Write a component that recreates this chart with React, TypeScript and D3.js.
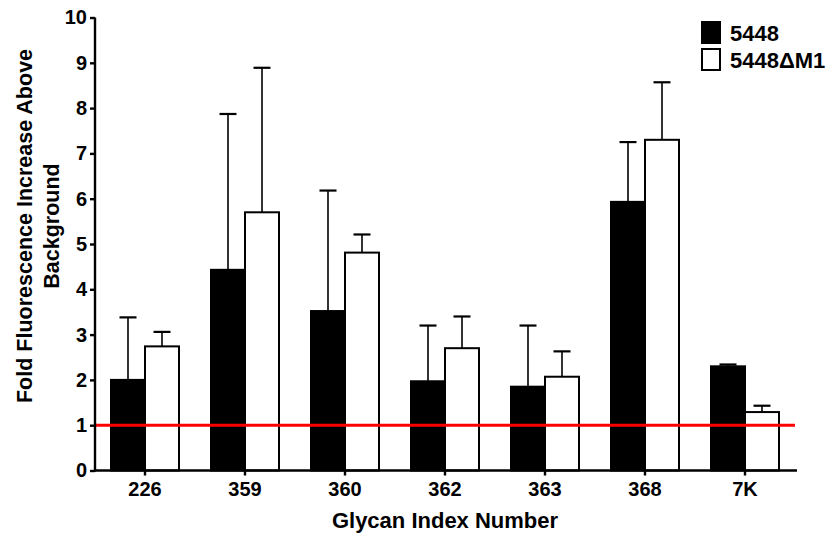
import { useEffect, useRef } from "react";
import * as d3 from "d3";

const categories = ["226", "359", "360", "362", "363", "368", "7K"];
const seriesNames = ["5448", "5448\u0394M1"];
const wildMeans = [2.0, 4.43, 3.52, 1.97, 1.85, 5.93, 2.3];
const wildErrTop = [3.38, 7.87, 6.18, 3.2, 3.2, 7.25, 2.34];
const mutantMeans = [2.74, 5.7, 4.81, 2.7, 2.07, 7.3, 1.29];
const mutantErrTop = [3.06, 8.89, 5.21, 3.4, 2.63, 8.57, 1.43];
const yTicks = [0, 1, 2, 3, 4, 5, 6, 7, 8, 9, 10];
const baseline = 1;

export default function App() {
  const svgRef = useRef<SVGSVGElement | null>(null);

  useEffect(() => {
    document.body.style.margin = "0";
    if (!svgRef.current) return;
    const svg = d3.select(svgRef.current);
    svg.selectAll("*").remove();

    const height = 534;
    const margin = { top: 17.5, right: 32, bottom: 63.5, left: 95 };
    const innerHeight = height - margin.top - margin.bottom;
    const font = "'Liberation Sans', Arial, sans-serif";

    const root = svg
      .append("g")
      .attr("transform", `translate(${margin.left},${margin.top})`);

    const x = d3
      .scaleBand()
      .domain(categories)
      .range([0, 700])
      .paddingInner(0.32)
      .paddingOuter(0.16);
    const sub = d3.scaleBand().domain(seriesNames).range([0, x.bandwidth()]);
    const y = d3.scaleLinear().domain([0, 10]).range([innerHeight, 0]);

    const rows = categories.map((c, i) => ({
      cat: c,
      bars: [
        { name: seriesNames[0], value: wildMeans[i], err: wildErrTop[i], fill: "#000" },
        { name: seriesNames[1], value: mutantMeans[i], err: mutantErrTop[i], fill: "#fff" },
      ],
    }));

    const groups = root
      .selectAll("g.group")
      .data(rows)
      .join("g")
      .attr("class", "group")
      .attr("transform", (d) => `translate(${x(d.cat)},0)`);

    const bar = groups
      .selectAll("g.bar")
      .data((d) => d.bars)
      .join("g")
      .attr("class", "bar");

    // error bars (upper only)
    bar
      .append("line")
      .attr("x1", (d) => (sub(d.name) ?? 0) + sub.bandwidth() / 2)
      .attr("x2", (d) => (sub(d.name) ?? 0) + sub.bandwidth() / 2)
      .attr("y1", (d) => y(d.value))
      .attr("y2", (d) => y(d.err))
      .attr("stroke", "#000")
      .attr("stroke-width", 1.6);
    bar
      .append("line")
      .attr("x1", (d) => (sub(d.name) ?? 0) + sub.bandwidth() / 4)
      .attr("x2", (d) => (sub(d.name) ?? 0) + (sub.bandwidth() * 3) / 4)
      .attr("y1", (d) => y(d.err))
      .attr("y2", (d) => y(d.err))
      .attr("stroke", "#000")
      .attr("stroke-width", 2.2);

    bar
      .append("rect")
      .attr("x", (d) => sub(d.name) ?? 0)
      .attr("y", (d) => y(d.value))
      .attr("width", sub.bandwidth())
      .attr("height", (d) => innerHeight - y(d.value))
      .attr("fill", (d) => d.fill)
      .attr("stroke", "#000")
      .attr("stroke-width", 2);

    // baseline
    root
      .append("line")
      .attr("x1", 0)
      .attr("x2", 700)
      .attr("y1", y(baseline))
      .attr("y2", y(baseline))
      .attr("stroke", "#ff0000")
      .attr("stroke-width", 3);

    // axes
    const yAxis = root
      .append("g")
      .call(d3.axisLeft(y).tickValues(yTicks).tickSize(5).tickSizeOuter(0).tickPadding(3));
    const xAxis = root
      .append("g")
      .attr("transform", `translate(0,${innerHeight})`)
      .call(d3.axisBottom(x).tickSize(5).tickSizeOuter(0).tickPadding(6.5));
    xAxis.select(".domain").attr("d", `M0,0H702`);
    yAxis.select(".domain").attr("d", `M0,${innerHeight + 1}V0`);
    [xAxis, yAxis].forEach((axis) => {
      axis.attr("font-size", null).attr("font-family", null);
      axis.selectAll("line,path").attr("stroke", "#000").attr("stroke-width", 2.4);
      axis
        .selectAll("text")
        .attr("fill", "#000")
        .style("font-family", font)
        .style("font-weight", "bold")
        .style("font-size", "20px");
    });

    // axis titles
    svg
      .append("text")
      .attr("x", margin.left + 350)
      .attr("y", 528)
      .attr("text-anchor", "middle")
      .style("font-family", font)
      .style("font-weight", "bold")
      .style("font-size", "22px")
      .text("Glycan Index Number");

    const yTitle = svg
      .append("text")
      .attr("transform", "translate(32,226) rotate(-90)")
      .attr("text-anchor", "middle")
      .style("font-family", font)
      .style("font-weight", "bold")
      .style("font-size", "21.5px");
    yTitle.append("tspan").attr("x", 0).attr("y", 0).text("Fold Fluorescence Increase Above");
    yTitle.append("tspan").attr("x", 0).attr("y", 26.5).text("Background");

    // legend
    const legend = svg.append("g").attr("transform", "translate(702,22)");
    const item = legend
      .selectAll("g")
      .data(seriesNames)
      .join("g")
      .attr("transform", (_, i) => `translate(0,${i * 27})`);
    item
      .append("rect")
      .attr("width", 18)
      .attr("height", 21)
      .attr("fill", (_, i) => (i === 0 ? "#000" : "#fff"))
      .attr("stroke", "#000")
      .attr("stroke-width", 2);
    item
      .append("text")
      .attr("x", 28)
      .attr("y", 19)
      .style("font-family", font)
      .style("font-weight", "bold")
      .style("font-size", "22px")
      .text((d) => d);
  }, []);

  return <svg ref={svgRef} width={829} height={534} style={{ display: "block" }} />;
}
